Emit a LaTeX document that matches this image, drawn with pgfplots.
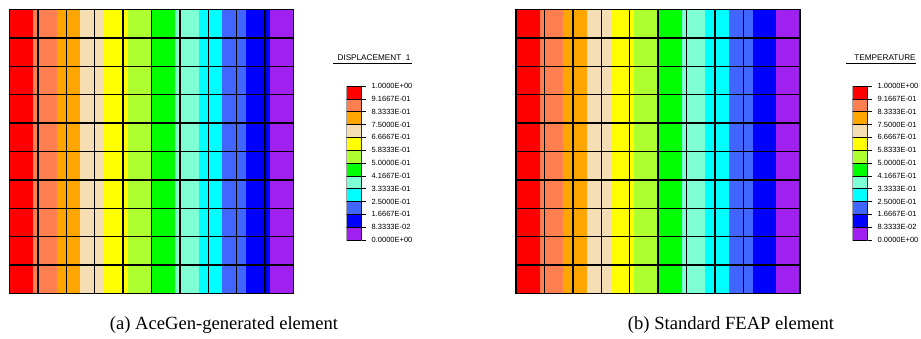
\documentclass[border=0pt]{standalone}
\usepackage{pgfplots}
\pgfplotsset{compat=1.18}
\usepackage{fontspec}
\setmainfont{Liberation Serif}
\newfontfamily\arialf{Liberation Sans}
\definecolor{c12}{HTML}{FF0000}
\definecolor{c11}{HTML}{FF7F50}
\definecolor{c10}{HTML}{FFA500}
\definecolor{c9}{HTML}{F5DEB3}
\definecolor{c8}{HTML}{FFFF00}
\definecolor{c7}{HTML}{ADFF2F}
\definecolor{c6}{HTML}{00FF00}
\definecolor{c5}{HTML}{7FFFD4}
\definecolor{c4}{HTML}{00FFFF}
\definecolor{c3}{HTML}{4066FF}
\definecolor{c2}{HTML}{0000FF}
\definecolor{c1}{HTML}{A020F0}
\pgfplotsset{
  meshaxis/.style={scale only axis, width=284pt, height=284pt, anchor=south west,
    xmin=0, xmax=1, ymin=0, ymax=1,
    xtick={0,0.1,0.2,0.3,0.4,0.5,0.6,0.7,0.8,0.9,1},
    ytick={0,0.1,0.2,0.3,0.4,0.5,0.6,0.7,0.8,0.9,1},
    xticklabels={}, yticklabels={}, major tick length=0pt,
    grid=major, major grid style={black, line width=1.4pt},
    axis line style={black, line width=1.9pt}, axis on top},
  band/.style={fill=#1, draw=#1, line width=0.3pt},
  box/.style={fill=#1, draw=black, line width=0.6pt},
  legaxis/.style={scale only axis, width=15pt, height=154pt, anchor=south west,
    xmin=-0.5, xmax=0.5, ymin=0, ymax=1, ybar stacked, bar width=15pt,
    hide x axis, axis y line*=right, axis line style={black, line width=0.6pt},
    ytick={0,0.0833333,0.1666667,0.25,0.3333333,0.4166667,0.5,0.5833333,0.6666667,0.75,0.8333333,0.9166667,1},
    yticklabels={0.0000E+00,8.3333E-02,1.6667E-01,2.5000E-01,3.3333E-01,4.1667E-01,5.0000E-01,5.8333E-01,6.6667E-01,7.5000E-01,8.3333E-01,9.1667E-01,1.0000E+00},
    tick align=outside, major tick length=4pt, ytick style={black, line width=0.6pt},
    yticklabel style={font=\arialf\fontsize{7.5}{8}\selectfont, anchor=west, inner xsep=0pt, xshift=6pt}}
}
\newcommand{\bands}{%
  \addplot[band=c12] coordinates {(0,1) (0.0833333,1)} \closedcycle;
  \addplot[band=c11] coordinates {(0.0833333,1) (0.1666667,1)} \closedcycle;
  \addplot[band=c10] coordinates {(0.1666667,1) (0.25,1)} \closedcycle;
  \addplot[band=c9] coordinates {(0.25,1) (0.3333333,1)} \closedcycle;
  \addplot[band=c8] coordinates {(0.3333333,1) (0.4166667,1)} \closedcycle;
  \addplot[band=c7] coordinates {(0.4166667,1) (0.5,1)} \closedcycle;
  \addplot[band=c6] coordinates {(0.5,1) (0.5833333,1)} \closedcycle;
  \addplot[band=c5] coordinates {(0.5833333,1) (0.6666667,1)} \closedcycle;
  \addplot[band=c4] coordinates {(0.6666667,1) (0.75,1)} \closedcycle;
  \addplot[band=c3] coordinates {(0.75,1) (0.8333333,1)} \closedcycle;
  \addplot[band=c2] coordinates {(0.8333333,1) (0.9166667,1)} \closedcycle;
  \addplot[band=c1] coordinates {(0.9166667,1) (1,1)} \closedcycle;
}
\newcommand{\legboxes}{%
  \addplot[box=c1] coordinates {(0,0.0833333)};
  \addplot[box=c2] coordinates {(0,0.0833333)};
  \addplot[box=c3] coordinates {(0,0.0833333)};
  \addplot[box=c4] coordinates {(0,0.0833333)};
  \addplot[box=c5] coordinates {(0,0.0833333)};
  \addplot[box=c6] coordinates {(0,0.0833333)};
  \addplot[box=c7] coordinates {(0,0.0833333)};
  \addplot[box=c8] coordinates {(0,0.0833333)};
  \addplot[box=c9] coordinates {(0,0.0833333)};
  \addplot[box=c10] coordinates {(0,0.0833333)};
  \addplot[box=c11] coordinates {(0,0.0833333)};
  \addplot[box=c12] coordinates {(0,0.0833334)};
}
\begin{document}
\begin{tikzpicture}
\path[use as bounding box] (0,0) rectangle (921pt,338pt);
% panel (a)
\begin{axis}[meshaxis, at={(9.5pt,44.5pt)}]
\bands
\end{axis}
\begin{axis}[legaxis, at={(346.5pt,98pt)}]
\legboxes
\end{axis}
\node[font=\arialf\fontsize{8.2}{9}\selectfont, anchor=base] at (374pt,277pt) {DISPLACEMENT\ \ 1};
\draw[line width=0.6pt] (333pt,275pt) -- (412pt,275pt);
\node[font=\fontsize{18.6}{22}\selectfont, anchor=base] at (224pt,9pt) {(a) AceGen-generated element};
% panel (b)
\begin{axis}[meshaxis, at={(516pt,44.5pt)}]
\bands
\end{axis}
\begin{axis}[legaxis, at={(852.5pt,98pt)}]
\legboxes
\end{axis}
\node[font=\arialf\fontsize{8.2}{9}\selectfont, anchor=base] at (885pt,277pt) {TEMPERATURE};
\draw[line width=0.6pt] (846pt,275pt) -- (916pt,275pt);
\node[font=\fontsize{18.6}{22}\selectfont, anchor=base] at (731pt,9pt) {(b) Standard FEAP element};
\end{tikzpicture}
\end{document}
